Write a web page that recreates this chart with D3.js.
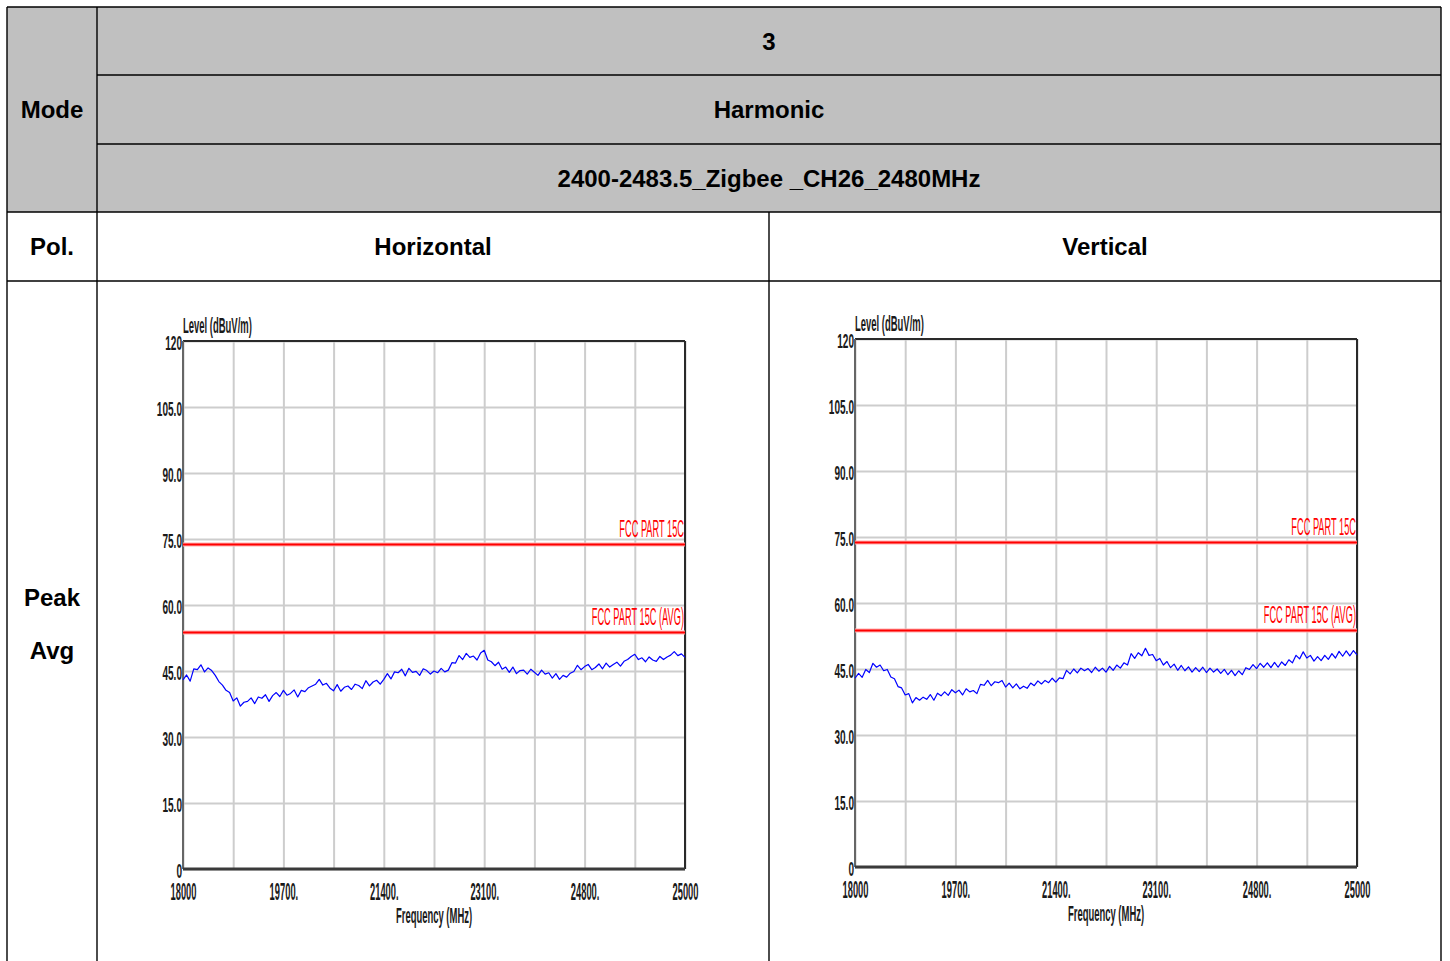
<!DOCTYPE html>
<html><head><meta charset="utf-8">
<script src="https://cdn.jsdelivr.net/npm/d3@7"></script>
<style>body{margin:0;background:#fff}svg{display:block}</style>
</head><body><svg id="c" width="1450" height="961"></svg>
<script>
const modeTitle = "3";
const testItem = "Harmonic";
const channelLabel = "2400-2483.5_Zigbee _CH26_2480MHz";
const rowHeaders = ["Mode", "Pol."];
const polarizations = ["Horizontal", "Vertical"];
const detectors = ["Peak", "Avg"];
const yAxisTitle = "Level (dBuV/m)";
const xAxisTitle = "Frequency (MHz)";
const freqStart = 18000, freqStep = 50;
const horizontalLevel = [43.0,44.1,42.7,45.5,45.3,46.4,44.8,45.7,45.1,44.0,42.6,41.8,40.6,40.1,38.2,38.9,37.0,37.9,38.1,38.9,
37.6,39.1,38.8,39.6,38.1,39.4,40.1,39.2,40.6,39.5,39.9,40.7,39.1,40.6,40.3,41.2,41.6,42.0,43.1,41.8,
42.2,41.1,40.5,41.9,40.4,41.3,41.6,40.8,42.0,41.7,41.0,42.8,41.6,42.5,42.9,42.0,43.1,44.4,43.2,44.8,
44.6,45.4,43.9,45.6,44.7,44.9,44.0,45.5,45.1,44.3,45.0,44.6,45.6,44.8,45.2,46.9,46.8,48.5,47.6,49.0,
48.1,48.4,47.5,49.1,49.7,47.5,47.1,46.2,47.0,45.4,45.9,44.7,45.9,44.4,45.1,45.2,44.3,45.4,44.7,44.0,
45.2,44.3,44.6,43.4,44.4,43.1,44.0,43.6,44.5,44.9,46.3,45.3,46.0,46.5,45.3,45.8,46.6,45.5,46.8,45.9,
46.5,47.0,46.1,47.2,47.6,48.3,48.8,47.6,48.0,47.1,48.2,47.5,47.2,48.3,47.6,48.2,48.6,49.4,48.5,48.9,48.1];
const verticalLevel = [42.9,44.0,43.1,44.9,44.2,46.3,45.4,45.9,44.6,44.9,43.2,42.8,41.0,40.7,39.1,39.4,37.3,38.5,37.9,38.6,
38.1,39.2,37.9,39.5,38.9,39.8,39.0,40.3,39.6,40.2,39.1,40.5,39.8,40.1,39.4,41.5,41.3,42.4,41.2,42.1,
41.9,42.4,40.9,41.8,40.7,41.6,40.5,41.1,40.6,41.8,41.2,42.3,41.6,42.4,41.9,42.9,42.0,43.0,42.8,44.7,
43.9,45.0,44.1,45.2,44.6,45.1,44.2,45.4,44.5,45.2,44.3,45.6,44.7,45.9,45.2,46.4,45.9,48.5,47.4,48.7,
48.0,49.7,48.1,48.3,46.9,47.4,45.9,46.7,45.3,46.1,44.7,45.8,44.6,45.5,44.3,45.3,44.4,45.4,44.2,45.2,
44.3,45.0,44.0,44.9,43.7,44.7,43.5,44.6,43.7,45.3,44.9,46.0,45.1,46.3,45.4,46.4,45.3,46.5,45.4,46.6,
45.8,47.1,46.4,48.1,47.3,48.9,47.5,48.1,46.8,47.8,46.9,48.1,47.2,48.5,47.5,49.0,47.9,49.1,48.0,49.2,48.2];
const limitNames = ["FCC PART 15C", "FCC PART 15C (AVG)"];
const limitValues = [74, 54];
const yTickValues = [0, 15, 30, 45, 60, 75, 90, 105, 120];
const yTickLabels = ["0", "15.0", "30.0", "45.0", "60.0", "75.0", "90.0", "105.0", "120"];
const xTickValues = [18000, 19400, 20800, 22200, 23600, 25000];
const xTickLabels = ["18000", "19700.", "21400.", "23100.", "24800.", "25000"];
const xGridValues = d3.range(18000, 25001, 700);

const svg = d3.select("#c");
const FONT = "'Liberation Sans', Arial, sans-serif";

// ---------- table ----------
const colX = [7, 97, 769, 1441];
const rowY = [7, 75, 144, 212, 281, 961];
svg.append("rect").attr("x", colX[0]).attr("y", rowY[0]).attr("width", colX[3]-colX[0]).attr("height", rowY[3]-rowY[0]).attr("fill", "#c0c0c0");
const lines = [
  [colX[0], rowY[0], colX[3], rowY[0]],
  [colX[1], rowY[1], colX[3], rowY[1]],
  [colX[1], rowY[2], colX[3], rowY[2]],
  [colX[0], rowY[3], colX[3], rowY[3]],
  [colX[0], rowY[4], colX[3], rowY[4]],
  [colX[0], rowY[0], colX[0], rowY[5]],
  [colX[1], rowY[0], colX[1], rowY[5]],
  [colX[2], rowY[3], colX[2], rowY[5]],
  [colX[3], rowY[0], colX[3], rowY[5]]
];
svg.append("g").selectAll("line").data(lines).join("line")
  .attr("x1", d=>d[0]).attr("y1", d=>d[1]).attr("x2", d=>d[2]).attr("y2", d=>d[3])
  .attr("stroke", "#000").attr("stroke-width", 1.4);

const cellTexts = [
  [modeTitle, (colX[1]+colX[3])/2, (rowY[0]+rowY[1])/2],
  [testItem, (colX[1]+colX[3])/2, (rowY[1]+rowY[2])/2],
  [channelLabel, (colX[1]+colX[3])/2, (rowY[2]+rowY[3])/2],
  [rowHeaders[0], (colX[0]+colX[1])/2, (rowY[1]+rowY[2])/2],
  [rowHeaders[1], (colX[0]+colX[1])/2, (rowY[3]+rowY[4])/2],
  [polarizations[0], (colX[1]+colX[2])/2, (rowY[3]+rowY[4])/2],
  [polarizations[1], (colX[2]+colX[3])/2, (rowY[3]+rowY[4])/2],
  [detectors[0], (colX[0]+colX[1])/2, 597],
  [detectors[1], (colX[0]+colX[1])/2, 650]
];
svg.append("g").selectAll("text").data(cellTexts).join("text")
  .attr("x", d=>d[1]).attr("y", d=>d[2]).attr("dy", "0.36em")
  .attr("text-anchor", "middle").attr("font-family", FONT).attr("font-weight", "bold")
  .attr("font-size", 24).attr("fill", "#000").text(d=>d[0]);

// ---------- charts ----------
const pw = 502, ph = 528;
function panel(ox, oy, levels) {
  const g = svg.append("g").attr("transform", `translate(${ox},${oy})`);
  const x = d3.scaleLinear().domain([18000, 25000]).range([0, pw]);
  const y = d3.scaleLinear().domain([0, 120]).range([ph, 0]);

  // grid
  g.append("g").attr("transform", `translate(0,${ph})`)
    .call(d3.axisBottom(x).tickValues(xGridValues).tickSize(-ph).tickFormat(""))
    .call(s => { s.select(".domain").remove(); s.selectAll("line").attr("stroke", "#cdcdcd").attr("stroke-width", 2); });
  g.append("g")
    .call(d3.axisLeft(y).tickValues(yTickValues).tickSize(-pw).tickFormat(""))
    .call(s => { s.select(".domain").remove(); s.selectAll("line").attr("stroke", "#cdcdcd").attr("stroke-width", 2); });

  // frame
  g.append("line").attr("x1", 0).attr("x2", pw).attr("y1", 0).attr("y2", 0).attr("stroke", "#2a2a2a").attr("stroke-width", 2);
  g.append("line").attr("x1", pw).attr("x2", pw).attr("y1", 0).attr("y2", ph).attr("stroke", "#2a2a2a").attr("stroke-width", 2);
  g.append("line").attr("x1", 0).attr("x2", 0).attr("y1", 0).attr("y2", ph).attr("stroke", "#666").attr("stroke-width", 2);
  g.append("line").attr("x1", 0).attr("x2", pw).attr("y1", ph).attr("y2", ph).attr("stroke", "#3a3a3a").attr("stroke-width", 3);

  // limit lines
  const lim = g.append("g");
  lim.selectAll("line.halo").data(limitValues).join("line").attr("class", "halo")
    .attr("x1", 0).attr("x2", pw).attr("y1", d=>y(d)+1).attr("y2", d=>y(d)+1)
    .attr("stroke", "#ffb0b0").attr("stroke-width", 4);
  lim.selectAll("line.l").data(limitValues).join("line").attr("class", "l")
    .attr("x1", 0).attr("x2", pw).attr("y1", d=>y(d)+1).attr("y2", d=>y(d)+1)
    .attr("stroke", "#ff0000").attr("stroke-width", 2);
  lim.selectAll("text").data(limitValues).join("text")
    .attr("transform", d => `translate(${pw-1},${y(d)-6}) scale(0.385,1)`)
    .attr("text-anchor", "end").attr("font-family", FONT).attr("font-size", 24)
    .attr("fill", "#ff0000").text((d,i)=>limitNames[i]);

  // trace
  const line = d3.line().x((d,i)=>x(freqStart + i*freqStep)).y(d=>y(d));
  g.append("path").datum(levels).attr("d", line).attr("fill", "none")
    .attr("stroke", "#0000ff").attr("stroke-width", 1.2).attr("stroke-linejoin", "round");

  // y tick labels
  g.append("g")
    .call(d3.axisLeft(y).tickValues(yTickValues).tickSize(0).tickFormat((d,i)=>yTickLabels[i]))
    .call(s => {
      s.select(".domain").remove();
      s.selectAll("text").attr("x", null).attr("dy", null)
        .attr("transform", "translate(-1,8) scale(0.48,1)")
        .attr("font-family", FONT).attr("font-weight", "bold").attr("font-size", 21).attr("fill", "#1a1a1a");
    });
  // x tick labels
  g.append("g").attr("transform", `translate(0,${ph})`)
    .call(d3.axisBottom(x).tickValues(xTickValues).tickSize(0).tickFormat((d,i)=>xTickLabels[i]))
    .call(s => {
      s.select(".domain").remove();
      s.selectAll("text").attr("y", null).attr("dy", null)
        .attr("transform", "translate(0,31) scale(0.39,1)")
        .attr("font-family", FONT).attr("font-weight", "bold").attr("font-size", 24).attr("fill", "#1a1a1a");
    });

  // axis titles
  g.append("text").attr("transform", "translate(0,-8) scale(0.43,1)")
    .attr("font-family", FONT).attr("font-weight", "bold").attr("font-size", 22).attr("fill", "#1a1a1a").text(yAxisTitle);
  g.append("text").attr("transform", `translate(${pw/2},${ph+54}) scale(0.43,1)`)
    .attr("text-anchor", "middle").attr("font-family", FONT).attr("font-weight", "bold").attr("font-size", 22).attr("fill", "#1a1a1a").text(xAxisTitle);
}
panel(183, 341, horizontalLevel);
panel(855, 339, verticalLevel);
</script></body></html>
